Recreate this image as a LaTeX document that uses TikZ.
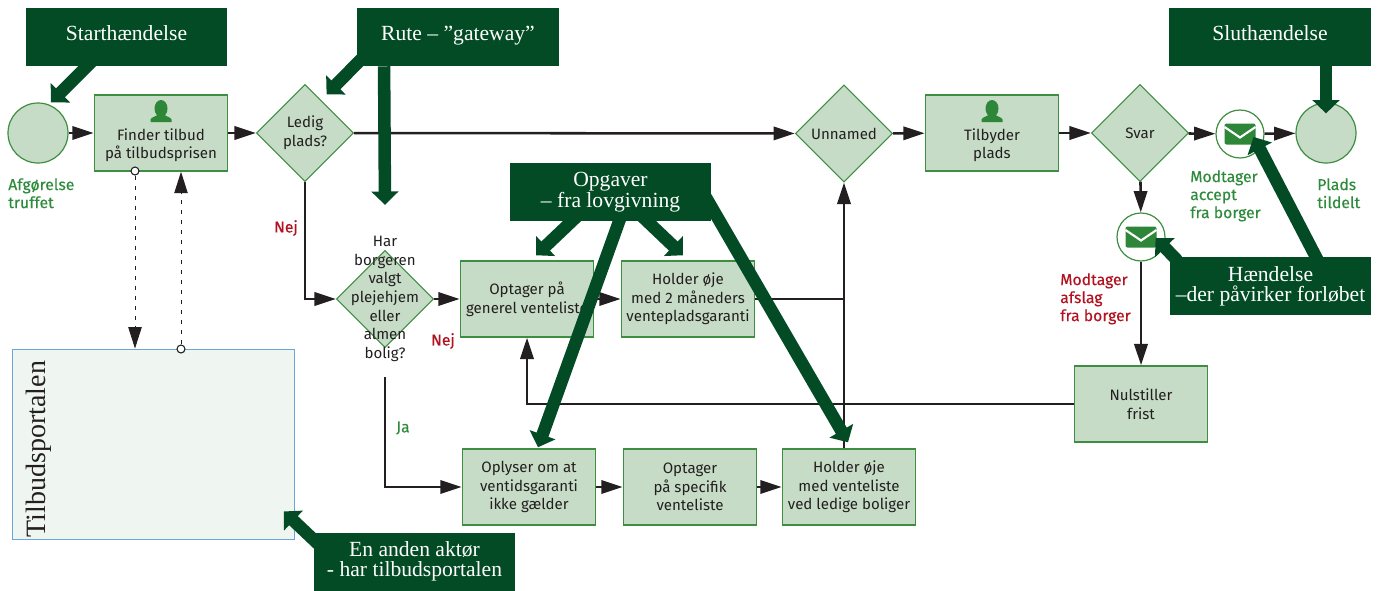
\documentclass[tikz,border=0pt]{standalone}
\usepackage{fontspec}
\setmainfont{Fira Sans}
\newfontfamily\serifcall{Liberation Serif}
\newfontfamily\lblfont[FakeBold=0.3]{Fira Sans}
\usetikzlibrary{shapes.geometric, arrows.meta, positioning, calc}
\definecolor{calldark}{RGB}{2,75,36}
\definecolor{taskfill}{RGB}{198,220,198}
\definecolor{taskline}{RGB}{62,142,65}
\definecolor{icongreen}{RGB}{46,134,56}
\definecolor{flowdark}{RGB}{35,31,32}
\definecolor{lblgreen}{RGB}{46,139,60}
\definecolor{lblred}{RGB}{178,18,32}
\definecolor{portalfill}{RGB}{239,245,240}
\definecolor{portalline}{RGB}{108,166,216}
\tikzset{
  usericon/.pic={
    \fill[icongreen] (0,-3.5) ellipse (6.5 and 8.5);
    \fill[icongreen] (-10.5,10) -- (-10.5,7.5) .. controls (-10,5) and (-4,4.5) .. (-3,2) -- (3,2) .. controls (4,4.5) and (10,5) .. (10.5,7.5) -- (10.5,10) -- cycle;
  },
  mailicon/.pic={
    \fill[icongreen, rounded corners=1.5pt] (-15.5,-10.5) rectangle (15.5,10.5);
    \draw[white, line width=1.6pt] (-15.5,-7) -- (0,3.5) -- (15.5,-7);
  },
}
\begin{document}
\begin{tikzpicture}[
  x=0.75pt,y=-0.75pt,
  bodytext/.style={font=\fontsize{11.3}{14}\selectfont, text=flowdark, align=center},
  task/.style={
    rectangle, bodytext, line width=1.1pt,
    draw=taskline, fill=taskfill,
    minimum width=100pt, minimum height=57pt, inner sep=0pt
  },
  gateway/.style={
    diamond, aspect=1, bodytext, line width=0.8pt,
    draw=taskline, fill=taskfill,
    minimum width=73pt, minimum height=73pt, inner sep=0pt
  },
  event/.style={circle, line width=0.9pt, draw=taskline, fill=taskfill, minimum size=45pt, inner sep=0pt},
  mailevent/.style={circle, line width=0.9pt, draw=taskline, fill=white, minimum size=36pt, inner sep=0pt},
  actor/.style={rectangle, line width=0.9pt, draw=portalline, fill=portalfill, minimum width=211pt, minimum height=143pt, inner sep=0pt},
  callbox/.style={
    rectangle, fill=calldark, text=white, align=center, inner sep=0pt,
    minimum width=151pt, minimum height=43.5pt,
    font=\serifcall\fontsize{16.2}{14.7}\selectfont
  },
  callone/.style={callbox, text height=10.5pt, text depth=5pt},
  arrow/.style={-{Triangle[length=16pt,width=10pt]}, line width=1.9pt, draw=flowdark},
  flow/.style={-{Triangle[length=16pt,width=10pt]}, line width=0.7pt, draw=flowdark, dash pattern=on 3.5pt off 4pt},
  portdot/.style={circle, line width=0.8pt, draw=flowdark, fill=white, minimum size=6pt, inner sep=0pt},
  callout/.style={-{Triangle[length=10pt,width=20pt]}, line width=9.4pt, draw=calldark},
  lblg/.style={font=\lblfont\fontsize{11.8}{13.5}\selectfont, text=lblgreen, align=left, inner sep=0pt},
  lblr/.style={font=\lblfont\fontsize{11.8}{13.5}\selectfont, text=lblred, align=left, inner sep=0pt}
]
\useasboundingbox (0,0) rectangle (1378,590);

% ---- actor ----
\node[actor] (portal) at (153.5,444.5) {};
\node[font=\serifcall\fontsize{21}{21}\selectfont, text=flowdark, rotate=90, inner sep=0pt] (portaltitle) at (39,449) {Tilbudsportalen};

% ---- events and tasks, fixed positions ----
\node[event]                                  (startev)   at (38,133)    {};
\node[task]                                   (finder)    at (161,133)   {\mbox{}\\[13pt]Finder tilbud\\på tilbudsprisen};
\node[gateway]                                (ledig)     at (305,133)   {Ledig\\plads?};
\node[gateway]                                (unnamed)   at (844,133.5) {Unnamed};
\node[task]                                   (tilbyder)  at (992,133)   {\mbox{}\\[13pt]Tilbyder\\plads};
\node[gateway]                                (svar)      at (1140,133)  {Svar};
\node[mailevent]                              (accept)    at (1240,134)  {};
\node[event]                                  (endev)     at (1326,133)  {};
\node[mailevent]                              (afslag)    at (1141,237)  {};
\node[task]                                   (nulstiller) at (1141,404) {Nulstiller\\frist};

\node[gateway]                                (har)       at (385,299)   {};
\node[bodytext, inner sep=0pt]                (hartext)   at (385,299)   {Har\\borgeren\\valgt\\plejehjem\\eller\\almen\\bolig?};
\node[task]                                   (generel)   at (527,299)   {Optager på\\generel venteliste};
\node[task]                                   (garanti)   at (688,299)   {Holder øje\\med 2 måneders\\ventepladsgaranti};
\node[task]                                   (oplyser)   at (529,487)   {Oplyser om at\\ventidsgaranti\\ikke gælder};
\node[task]                                   (specifik)  at (690,487)   {Optager\\på specifik\\venteliste};
\node[task]                                   (ledige)    at (849,487)   {Holder øje\\med venteliste\\ved ledige boliger};

% ---- icons ----
\pic at (161,112) {usericon};
\pic at (992,112) {usericon};
\pic at (accept) {mailicon};
\pic at (afslag) {mailicon};

% ---- labels ----
\node[lblg, anchor=north west] (lblstart)  at (8,178)     {Afgørelse\\truffet};
\node[lblg, anchor=north west] (lblend)    at (1317,178)  {Plads\\tildelt};
\node[lblg, anchor=north west] (lblaccept) at (1190,170)  {Modtager\\accept\\fra borger};
\node[lblr, anchor=north west] (lblafslag) at (1060,273)  {Modtager\\afslag\\fra borger};
\node[lblr]                    (nejledig)  at (286,228)   {Nej};
\node[lblr]                    (nejhar)    at (443,341)   {Nej};
\node[lblg]                    (jahar)     at (403,428)   {Ja};

% ---- connectors ----
\draw[arrow] (startev) -- (finder);
\draw[arrow] (finder) -- (ledig);
\draw[arrow] (ledig) -- (unnamed);
\draw[arrow] (unnamed) -- (tilbyder);
\draw[arrow] (tilbyder) -- (svar);
\draw[arrow] (svar) -- (accept);
\draw[arrow] (accept) -- (endev);
\draw[arrow] (svar) -- (afslag);
\draw[arrow] (afslag) -- (nulstiller);
\draw[arrow] (nulstiller.west) -| (generel.south);

\draw[arrow] (ledig.south) |- (har.west);
\draw[arrow] (har.east) -- (generel.west);
\draw[arrow] (generel) -- (garanti);
\draw[arrow] (ledige.north -| unnamed.south) -- (unnamed.south);
\draw[line width=1.9pt, draw=flowdark] (garanti.east) -- (garanti.east -| unnamed.south);

\draw[arrow] ($(hartext.south)+(0,15)$) |- (oplyser.west);
\draw[arrow] (oplyser) -- (specifik);
\draw[arrow] (specifik) -- (ledige);

% ---- message flows ----
\node[portdot] (dotfinder) at (135,171) {};
\node[portdot] (dotportal) at (181,349) {};
\draw[flow] (dotfinder) -- (dotfinder |- portal.north);
\draw[flow] (dotportal) -- (dotportal |- finder.south);

% ---- explanations ----
\node[callone] (callstart) at (126.5,37)  {Starthændelse};
\node[callone] (callrute)  at (458,37)    {Rute – ”gateway”};
\node[callbox] (callopg)   at (610.5,192) {Opgaver\\– fra lovgivning};
\node[callone] (callslut)  at (1270,37)   {Sluthændelse};
\node[callbox] (callhaend) at (1270.5,286) {Hændelse\\–der påvirker forløbet};
\node[callbox] (callaktor) at (414.5,561.5) {En anden aktør\\- har tilbudsportalen};

\draw[callout] ($(callstart.south)+(-33.5,-6)$) -- ($(startev.65)+(0,-3)$);
\draw[callout] ($(callrute.south west)+(8,-11)$) -- ($(ledig.north east)+(-3,-14)$);
\draw[callout] ($(callrute.south west)+(27,0)$) -- ($(har.north)+(0,-45)$);
\draw[callout] ($(callopg.south)+(-33.5,-5)$) -- ($(generel.north)+(9,-5)$);
\draw[callout] ($(callopg.south)+(31.5,-5)$) -- ($(garanti.north)+(-5,-5)$);
\draw[callout] ($(callopg.south)+(11.5,-8)$) -- ($(oplyser.north)+(9,-1)$);
\draw[callout] ($(callopg.east)+(-11,-4)$) -- ($(ledige.north)+(-1,-6)$);
\draw[callout] ($(callslut.south)+(56,0)$) -- ($(endev.north)+(0,11)$);
\draw[callout] ($(callhaend.north)+(49.5,8)$) -- ($(accept.east)+(-11,3)$);
\draw[callout] ($(callhaend.north west)+(8,4)$) -- ($(afslag.east)+(-10,1)$);
\draw[callout] ($(callaktor.north west)+(8,15)$) -- ($(portal.south east)+(-11,-29)$);

\end{tikzpicture}
\end{document}
